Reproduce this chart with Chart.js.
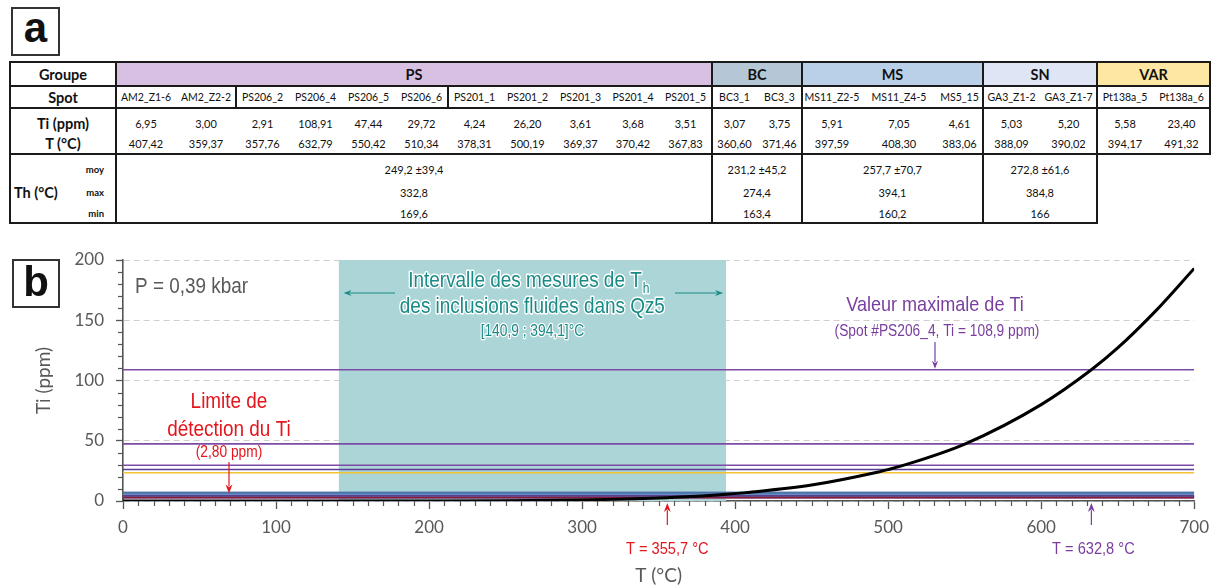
<!DOCTYPE html>
<html lang="fr">
<head>
<meta charset="utf-8">
<title>Ti-in-quartz</title>
<script src="https://cdn.jsdelivr.net/npm/chart.js@4.4.1/dist/chart.umd.min.js"></script>
<style>
html,body{margin:0;padding:0;background:#fff;}
body{width:1217px;height:587px;position:relative;overflow:hidden;font-family:Lato,"Open Sans",sans-serif;}
.lbl{position:absolute;border:2px solid #333;box-sizing:border-box;font-family:"Liberation Sans",Arial,sans-serif;font-weight:bold;color:#111;display:flex;align-items:center;justify-content:center;z-index:3;}
#tbl{position:absolute;left:0;top:0;width:1217px;height:232px;}
.c{position:absolute;display:flex;align-items:center;justify-content:center;white-space:nowrap;color:#111;font-size:11px;box-sizing:border-box;}
.ln{position:absolute;background:#1a1a1a;}
#chartWrap{position:absolute;left:0;top:232px;width:1217px;height:355px;}
</style>
</head>
<body>
<div class="lbl" style="left:11px;top:7px;width:49px;height:49px;font-size:42px;"><span style="margin-top:-7px">a</span></div>
<div id="tbl"></div>
<div id="chartWrap"><canvas id="c" width="1217" height="355"></canvas></div>
<div class="lbl" style="left:12px;top:259px;width:48px;height:49px;font-size:42px;"><span style="margin-top:-3px">b</span></div>
<script>
// ---------------- DATA ----------------
const groupNames = ['PS', 'BC', 'MS', 'SN', 'VAR'];
const groupSizes = [11, 2, 3, 2, 2];
const spotNames = ['AM2_Z1-6','AM2_Z2-2','PS206_2','PS206_4','PS206_5','PS206_6','PS201_1','PS201_2','PS201_3','PS201_4','PS201_5','BC3_1','BC3_3','MS11_Z2-5','MS11_Z4-5','MS5_15','GA3_Z1-2','GA3_Z1-7','Pt138a_5','Pt138a_6'];
const spotSubgroup = ['AM2','AM2','PS206','PS206','PS206','PS206','PS201','PS201','PS201','PS201','PS201','BC','BC','MS','MS','MS','SN','SN','VAR','VAR'];
const tiValues = [6.95, 3.00, 2.91, 108.91, 47.44, 29.72, 4.24, 26.20, 3.61, 3.68, 3.51, 3.07, 3.75, 5.91, 7.05, 4.61, 5.03, 5.20, 5.58, 23.40];
const tValues = [407.42, 359.37, 357.76, 632.79, 550.42, 510.34, 378.31, 500.19, 369.37, 370.42, 367.83, 360.60, 371.46, 397.59, 408.30, 383.06, 388.09, 390.02, 394.17, 491.32];
const thMoy = ['249,2 ±39,4', '231,2 ±45,2', '257,7 ±70,7', '272,8 ±61,6'];
const thMax = ['332,8', '274,4', '394,1', '384,8'];
const thMin = ['169,6', '163,4', '160,2', '166'];

// curve (T in °C, Ti in ppm)
const curveT  = [0, 50, 100, 150, 200, 250, 300, 330, 355.7, 357.76, 359.37, 360.60, 367.83, 369.37, 370.42, 371.46, 378.31, 383.06, 388.09, 390.02, 394.17, 397.59, 407.42, 408.30, 450, 491.32, 500.19, 510.34, 550.42, 600, 632.79, 650, 675, 700];
const curveTi = [0, 0, 0, 0.01, 0.06, 0.25, 0.9, 1.7, 2.80, 2.91, 3.00, 3.07, 3.51, 3.61, 3.68, 3.75, 4.24, 4.61, 5.03, 5.20, 5.58, 5.91, 6.95, 7.05, 13.2, 23.40, 26.20, 29.72, 47.44, 80, 108.91, 127, 158, 193];

const thInterval = [140.9, 394.1];
const detectionLimit = 2.80;
const maxTiT = 632.8;
const detectionT = 355.7;
const xTicks = [0, 100, 200, 300, 400, 500, 600, 700];
const yTicks = [0, 50, 100, 150, 200];

// ---------------- TABLE (part a) ----------------
const colEdges = [116,176,236,289,342,395,448,501,554,607,659,712,757,802,862,936,983,1040,1097,1153,1210];
const groupColors = {PS:'#d8c0e3', BC:'#b5c7d6', MS:'#bad0e9', SN:'#dfe5f4', VAR:'#fde7a2'};
const tbl = document.getElementById('tbl');
function box(x1,y1,x2,y2,html,css){const d=document.createElement('div');d.className='c';d.style.cssText=`left:${x1}px;top:${y1}px;width:${x2-x1}px;height:${y2-y1}px;`+(css||'');d.innerHTML=html;tbl.appendChild(d);return d;}
function hl(x1,x2,y,w){w=w||2;const d=document.createElement('div');d.className='ln';d.style.cssText=`left:${x1-1}px;top:${y-w/2}px;width:${x2-x1+2}px;height:${w}px;`;tbl.appendChild(d);}
function vl(x,y1,y2,w){w=w||2;const d=document.createElement('div');d.className='ln';d.style.cssText=`left:${x-w/2}px;top:${y1-1}px;width:${w}px;height:${y2-y1+2}px;`;tbl.appendChild(d);}
const fmt = v => v.toFixed(2).replace('.', ',');
const Y0=62, YG=86, YS=108, YV=154, YB=223;
// group headers
let idx = 0;
const groupEdgeX = [];
groupNames.forEach((g,i)=>{
  const x1 = colEdges[idx], x2 = colEdges[idx+groupSizes[i]];
  groupEdgeX.push([x1,x2]);
  box(x1,Y0,x2,YG,g,`background:${groupColors[g]};font-weight:bold;font-size:14.5px;`);
  idx += groupSizes[i];
});
box(10,Y0,116,YG,'Groupe','font-weight:bold;font-size:14.5px;');
box(10,YG,116,YS,'Spot','font-weight:bold;font-size:14.5px;');
box(10,110,116,136,'Ti (ppm)','font-weight:bold;font-size:14.5px;');
box(10,130,116,156,'T (°C)','font-weight:bold;font-size:14.5px;');
box(14,181,90,203,'Th (°C)','font-weight:bold;font-size:14.5px;justify-content:flex-start;');
box(70,158,104,180,'moy','font-weight:bold;font-size:9.5px;justify-content:flex-end;');
box(70,181,104,203,'max','font-weight:bold;font-size:9.5px;justify-content:flex-end;');
box(70,203,104,223,'min','font-weight:bold;font-size:9.5px;justify-content:flex-end;');
spotNames.forEach((s,i)=>{
  const x1 = colEdges[i], x2 = colEdges[i+1];
  box(x1-4,YG,x2+4,YS,s,'font-size:10.5px;');
  box(x1,111,x2,135,fmt(tiValues[i]),'font-size:11px;');
  box(x1,131,x2,155,fmt(tValues[i]),'font-size:11px;');
});
for (let i=0;i<4;i++){
  const [x1,x2] = groupEdgeX[i];
  box(x1,158,x2,180,thMoy[i],'font-size:11px;');
  box(x1,181,x2,203,thMax[i],'font-size:11px;');
  box(x1,203,x2,223,thMin[i],'font-size:11px;');
}
// borders
hl(10,1210,Y0); hl(10,1210,YG); hl(10,1210,YS); hl(10,1210,YV); hl(10,1097,YB);
vl(10,Y0,YB); vl(116,Y0,YB);
groupEdgeX.forEach(([x1,x2],i)=>{ if(i<4) vl(x2,Y0,YB); else vl(x2,Y0,YV); });
vl(236,YG,YS); vl(448,YG,YS);

// ---------------- CHART (part b) ----------------
const subColors = {AM2:'#4d72a8', PS206:'#7d4aa6', PS201:'#5b3f92', BC:'#6d2143', MS:'#5b86ba', SN:'#8ea9d2', VAR:'#f1c232'};
const NARROW = 0.86;
const datasets = [];
datasets.push({
  label:'Ti-in-quartz', data: curveT.map((t,i)=>({x:t,y:curveTi[i]})),
  borderColor:'#000', borderWidth:3, pointRadius:0, cubicInterpolationMode:'monotone', fill:false, order:0
});
datasets.push({
  label:'Limite de détection', data:[{x:0,y:detectionLimit},{x:700,y:detectionLimit}],
  borderColor:'#8c1a3c', borderWidth:1.6, pointRadius:0, fill:false, order:1
});
tiValues.forEach((v,i)=>{
  datasets.push({
    label: spotNames[i], data:[{x:0,y:v},{x:700,y:v}],
    borderColor: subColors[spotSubgroup[i]], borderWidth:1.6, pointRadius:0, fill:false, order:2
  });
});
datasets.push({
  label:'Th', data:[{x:thInterval[0],y:200},{x:thInterval[1],y:200}],
  borderWidth:0, borderColor:'rgba(0,0,0,0)', backgroundColor:'rgb(172,213,215)', pointRadius:0, fill:'origin', order:3
});

function txt(ctx, s, x, y, size, color, opts){
  opts = opts || {};
  ctx.save();
  ctx.font = `${size}px "Liberation Sans", Arial, sans-serif`;
  ctx.textBaseline = 'alphabetic';
  ctx.textAlign = opts.align || 'center';
  ctx.translate(x, y);
  ctx.scale(opts.sx || NARROW, 1);
  if (opts.outline){ ctx.strokeStyle='#fff'; ctx.lineWidth=opts.outline; ctx.lineJoin='round'; ctx.strokeText(s,0,0); }
  ctx.fillStyle = color; ctx.fillText(s,0,0);
  ctx.restore();
}
function measure(ctx, s, size){ ctx.save(); ctx.font = `${size}px "Liberation Sans", Arial, sans-serif`; const w = ctx.measureText(s).width*NARROW; ctx.restore(); return w; }
function arrow(ctx, x1,y1,x2,y2,color,head,w){
  head = head||7; w = w||1.3;
  const a = Math.atan2(y2-y1,x2-x1);
  ctx.save(); ctx.strokeStyle=color; ctx.fillStyle=color; ctx.lineWidth=w;
  ctx.beginPath(); ctx.moveTo(x1,y1); ctx.lineTo(x2-Math.cos(a)*head*0.8,y2-Math.sin(a)*head*0.8); ctx.stroke();
  ctx.beginPath(); ctx.moveTo(x2,y2);
  ctx.lineTo(x2-head*Math.cos(a)+head*0.38*Math.sin(a), y2-head*Math.sin(a)-head*0.38*Math.cos(a));
  ctx.lineTo(x2-head*0.7*Math.cos(a), y2-head*0.7*Math.sin(a));
  ctx.lineTo(x2-head*Math.cos(a)-head*0.38*Math.sin(a), y2-head*Math.sin(a)+head*0.38*Math.cos(a));
  ctx.closePath(); ctx.fill(); ctx.restore();
}

const OY = 232; // canvas top on page
const decor = {
  id:'decor',
  afterDraw(chart){
    const ctx = chart.ctx, xs = chart.scales.x, ys = chart.scales.y;
    const ax = xs.getPixelForValue(0), ay = ys.getPixelForValue(0);
    ctx.save();
    ctx.strokeStyle='#555'; ctx.lineWidth=1.2;
    for (let v=10; v<700; v+=10){ if (v%100===0) continue; const px=Math.round(xs.getPixelForValue(v))+0.5; ctx.beginPath(); ctx.moveTo(px,ay); ctx.lineTo(px,ay+5); ctx.stroke(); }
    for (let v=10; v<200; v+=10){ if (v%50===0) continue; const py=Math.round(ys.getPixelForValue(v))+0.5; ctx.beginPath(); ctx.moveTo(ax-5,py); ctx.lineTo(ax,py); ctx.stroke(); }
    ctx.restore();

    const gray='#595959', teal='#1b8a85', purple='#7a3e9e', red='#e3161d';
    // pressure
    txt(ctx,'P = 0,39 kbar',135,293-OY,22,gray,{align:'left'});
    // Th interval
    const bandC = (xs.getPixelForValue(thInterval[0])+xs.getPixelForValue(thInterval[1]))/2;
    const l1 = 'Intervalle des mesures de T';
    const w1 = measure(ctx,l1,22), wh = measure(ctx,'h',14);
    const sx0 = bandC - 4 - (w1+wh)/2;
    txt(ctx,l1,sx0,287-OY,22,teal,{align:'left',outline:3});
    txt(ctx,'h',sx0+w1+1,293-OY,14,teal,{align:'left',outline:3});
    txt(ctx,'des inclusions fluides dans Qz5',bandC,313-OY,22,teal,{outline:3});
    txt(ctx,'[140,9 ; 394,1]°C',bandC,336-OY,16,teal,{outline:2.5});
    arrow(ctx,395,293-OY,xs.getPixelForValue(thInterval[0])+5,293-OY,teal,8,1.2);
    arrow(ctx,675,293-OY,xs.getPixelForValue(thInterval[1])-3,293-OY,teal,8,1.2);
    // max Ti
    const yMax = ys.getPixelForValue(tiValues[3]);
    txt(ctx,'Valeur maximale de Ti',935,311-OY,21,purple);
    txt(ctx,'(Spot #PS206_4, Ti = 108,9 ppm)',937,336-OY,16,purple);
    arrow(ctx,935,342-OY,935,yMax-1,purple,8,1.2);
    // detection limit
    txt(ctx,'Limite de',229,408-OY,22,red);
    txt(ctx,'détection du Ti',229,436-OY,22,red);
    txt(ctx,'(2,80 ppm)',229,457-OY,16,red);
    arrow(ctx,229,462-OY,229,ys.getPixelForValue(7)+1,red,9,1.2);
    // temperatures below axis
    const xd = xs.getPixelForValue(detectionT), xm = xs.getPixelForValue(maxTiT);
    arrow(ctx,xd,525-OY,xd,ay+2,red,9,1.2);
    txt(ctx,'T = 355,7 °C',xd,554-OY,17,red);
    arrow(ctx,xm,525-OY,xm,ay+2,purple,9,1.2);
    txt(ctx,'T = 632,8 °C',xm+2,554-OY,17,purple);
  }
};

new Chart(document.getElementById('c'), {
  type:'line',
  data:{datasets},
  options:{
    responsive:false, animation:false, events:[],
    layout:{padding:{top:28,right:19,left:0,bottom:0}},
    plugins:{legend:{display:false}, tooltip:{enabled:false}},
    scales:{
      x:{
        type:'linear', min:0, max:700,
        afterBuildTicks: s => { s.ticks = xTicks.map(v=>({value:v})); },
        ticks:{color:'#595959', font:{family:'Lato', size:17}, padding:8, maxRotation:0, autoSkip:false},
        grid:{display:true, drawOnChartArea:false, tickLength:8, tickColor:'#555', tickWidth:1.3, color:'#555'},
        border:{color:'#555', width:1.6},
        title:{display:true, text:'T (°C)', color:'#595959', font:{family:'Lato', size:19}, padding:{top:0,bottom:0}},
        afterFit: s => { s.height = 86; }
      },
      y:{
        type:'linear', min:0, max:200,
        afterBuildTicks: s => { s.ticks = yTicks.map(v=>({value:v})); },
        ticks:{color:'#595959', font:{family:'Lato', size:17}, padding:12},
        grid:{display:true, color:'#cfcfcf', lineWidth:1, tickLength:7, tickColor:'#555', tickWidth:1.3},
        border:{color:'#555', width:1.6, dash:[6,4]},
        title:{display:true, text:'Ti (ppm)', color:'#595959', font:{family:'Lato', size:19}, padding:{top:32,bottom:0}},
        afterFit: s => { s.width = 123; }
      }
    }
  },
  plugins:[decor]
});
</script>
</body>
</html>
